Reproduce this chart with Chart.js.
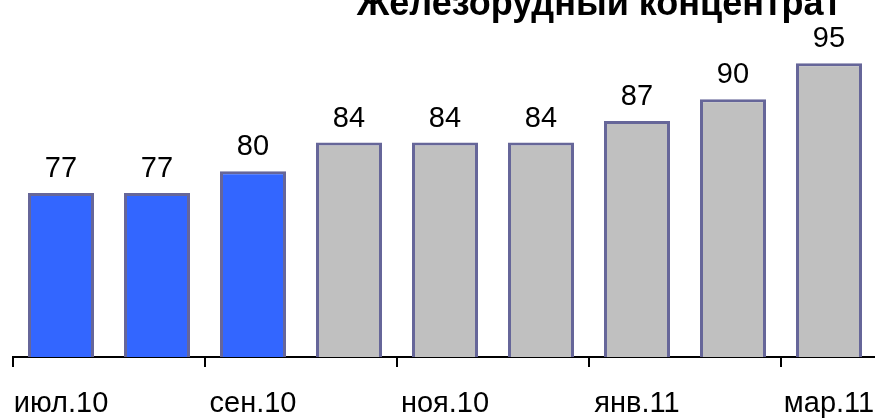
<!DOCTYPE html>
<html>
<head>
<meta charset="utf-8">
<script src="https://cdn.jsdelivr.net/npm/chart.js@4"></script>
<style>
html, body { margin:0; padding:0; background:#fff; overflow:hidden; }
#wrap { width:877px; height:418px; position:relative; }
</style>
</head>
<body>
<div id="wrap"><canvas id="c" width="877" height="418"></canvas></div>
<script>
const TITLE = 'Железорудный концентрат';
const categories = ['июл.10','авг.10','сен.10','окт.10','ноя.10','дек.10','янв.11','фев.11','мар.11'];
const values = [77, 77, 80, 84, 84, 84, 87, 90, 95];
const isActual = [true, true, true, false, false, false, false, false, false];
const shownLabelEvery = 2;

const BLUE = '#3366FF', GRAY = '#C0C0C0', EDGE = '#666699';
const FONT = '"Liberation Sans", Arial, sans-serif';

const labelPlugin = {
  id: 'valueLabels',
  afterDatasetsDraw(chart) {
    const ctx = chart.ctx;
    const meta = chart.getDatasetMeta(0);
    ctx.save();
    ctx.fillStyle = '#000';
    ctx.font = '29px ' + FONT;
    ctx.textAlign = 'center';
    ctx.textBaseline = 'alphabetic';
    meta.data.forEach((bar, i) => {
      ctx.fillText(String(values[i]), bar.x, bar.y - 16);
    });
    ctx.font = 'bold 36px ' + FONT;
    ctx.fillText(TITLE, 599, 15);
    ctx.restore();
  }
};

new Chart(document.getElementById('c'), {
  type: 'bar',
  data: {
    labels: categories,
    datasets: [{
      data: values,
      backgroundColor: isActual.map(a => a ? BLUE : GRAY),
      borderColor: EDGE,
      borderWidth: 3,
      barPercentage: 0.6875,
      categoryPercentage: 1.0
    }]
  },
  options: {
    responsive: false,
    animation: false,
    layout: { padding: { left: 13, right: 0, top: 0, bottom: 0 } },
    plugins: { legend: { display: false }, tooltip: { enabled: false }, title: { display: false } },
    scales: {
      y: { display: false, min: 54.2, max: 103.8 },
      x: {
        offset: true,
        afterFit(scale) { scale.height = 61; scale.paddingLeft = 0; scale.paddingRight = 0; },
        border: { display: true, color: '#000', width: 2 },
        grid: {
          offset: true,
          drawOnChartArea: false,
          drawTicks: true,
          tickLength: 10,
          lineWidth: 2,
          tickColor: (ctx) => (ctx.index % shownLabelEvery === 0 ? '#000' : 'rgba(0,0,0,0)')
        },
        ticks: {
          autoSkip: false,
          maxRotation: 0,
          padding: 20,
          color: '#000',
          font: { size: 29, family: FONT },
          callback: (v, i) => (i % shownLabelEvery === 0 ? categories[i] : '')
        }
      }
    }
  },
  plugins: [labelPlugin]
});
</script>
</body>
</html>
